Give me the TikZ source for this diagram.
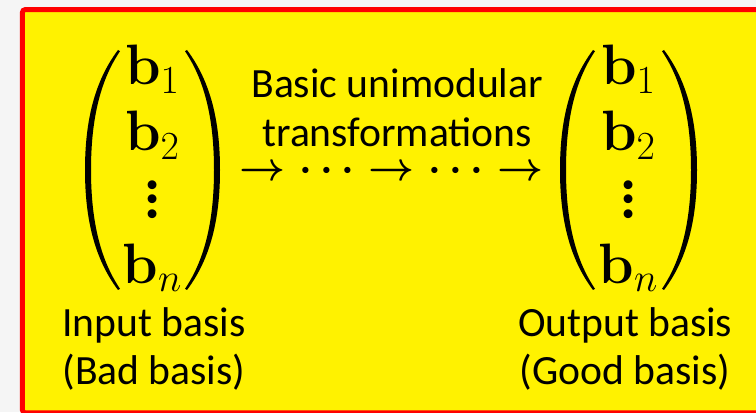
\RequirePackage{fix-cm}
\documentclass[tikz,border=0pt]{standalone}
\usepackage{amsmath,amssymb}
\usepackage[no-math]{fontspec}
\setmainfont{Carlito}
\usepackage{tikz}
\newcommand{\bv}{\mathbf{b}}
\newcommand{\ra}{\mathrel{\boldsymbol{\rightarrow}}}
\newcommand{\dts}{\mkern1.5mu{\boldsymbol{\cdot}}\mkern3.6mu{\boldsymbol{\cdot}}\mkern3.6mu{\boldsymbol{\cdot}}\mkern1.5mu}
\newcommand{\vdts}{\mathord{\rlap{\raisebox{-0.2em}{$\boldsymbol{\cdot}$}}\rlap{\raisebox{0.055em}{$\boldsymbol{\cdot}$}}\raisebox{0.31em}{$\boldsymbol{\cdot}$}}}
\newcommand{\pbrack}[2]{\fill [shift={(#1,6.05)},xscale=#2] (0,3) .. controls (-0.6,2.2) and (-0.825,1.2) .. (-0.825,0) .. controls (-0.825,-1.2) and (-0.6,-2.2) .. (0,-3) -- (0.05,-2.97) .. controls (-0.47,-2.2) and (-0.675,-1.2) .. (-0.675,0) .. controls (-0.675,1.2) and (-0.47,2.2) .. (0.05,2.97) -- cycle;}

\begin{document}
\begin{tikzpicture}
\tikzset{lbl/.style = {align=center, font=\fontsize{29.6}{34}\selectfont}}
\tikzstyle{every node}=[inner sep=0pt]
\tikzstyle{vec}=[font=\fontsize{40.5}{47}\selectfont]
\useasboundingbox (0,0) rectangle (18.9,10.3);
\fill [gray!8] (0,0) rectangle (18.9,10.3);
\draw [red, line width=3.5pt, fill=yellow, rounded corners=2pt] (0.56,-0.02) rectangle (19.4,10.06);
% the two bases
\node [vec] at (3.81,6.03)(In) {$\begin{matrix}\bv_1\\ \bv_2\\ \vdts\\ \bv_n\end{matrix}$};
\node [vec] at (15.71,6.03)(Out) {$\begin{matrix}\bv_1\\ \bv_2\\ \vdts\\ \bv_n\end{matrix}$};
\pbrack{2.95}{1}
\pbrack{4.675}{-1}
\pbrack{14.825}{1}
\pbrack{16.6}{-1}
% middle
\node [lbl, font=\fontsize{29.6}{35}\selectfont] at (9.93,7.6)(T) {Basic unimodular\\transformations};
\node [font=\fontsize{28.45}{34}\selectfont] at (9.79,6.02)(Arr) {$\ra\dts\ra\dts\ra$};
% labels
\node [lbl] at (3.85,1.575)(InL) {Input basis\\(Bad basis)};
\node [lbl] at (15.63,1.575)(OutL) {Output basis\\(Good basis)};
\end{tikzpicture}
\end{document}
